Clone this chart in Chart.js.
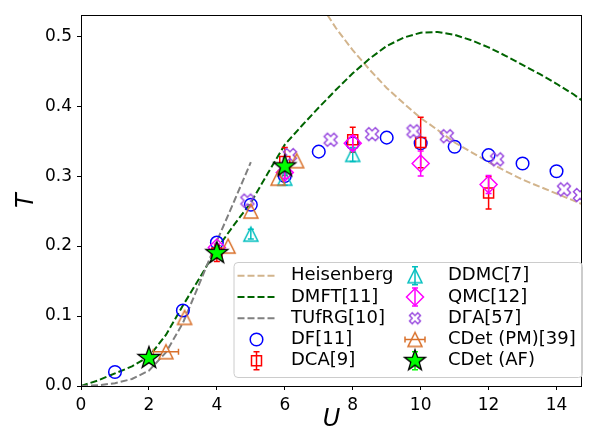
<!DOCTYPE html>
<html><head><meta charset="utf-8">
<script src="https://cdn.jsdelivr.net/npm/chart.js@4/dist/chart.umd.min.js"></script>
<style>html,body{margin:0;padding:0;background:#fff;overflow:hidden}</style>
</head><body>
<canvas id="c" width="592" height="434"></canvas>
<script>
// ---- data ----
const heisU = [7.26, 7.5, 8, 8.5, 9, 9.5, 10, 10.5, 11, 11.5, 12, 12.5, 13, 13.5, 14, 14.75];
const heisT = [0.53, 0.512, 0.48, 0.452, 0.426, 0.404, 0.383, 0.366, 0.348, 0.334, 0.32, 0.307, 0.295, 0.285, 0.275, 0.26];
const dmftU = [0, 0.5, 1, 1.5, 2, 2.5, 3, 3.5, 4, 4.5, 5, 5.5, 6, 6.5, 7, 7.5, 8, 8.5, 9, 9.5, 10, 10.5, 11, 11.5, 12, 12.5, 13, 13.5, 14, 14.5, 14.75];
const dmftT = [0, 0.008, 0.018, 0.028, 0.042, 0.073, 0.115, 0.155, 0.196, 0.23, 0.262, 0.304, 0.345, 0.372, 0.398, 0.423, 0.447, 0.468, 0.486, 0.498, 0.505, 0.506, 0.502, 0.494, 0.484, 0.472, 0.459, 0.446, 0.432, 0.417, 0.408];
const tufrgU = [0, 0.5, 1, 1.5, 2, 2.5, 3, 3.5, 4, 4.5, 5];
const tufrgT = [0, 0.001, 0.004, 0.01, 0.022, 0.048, 0.09, 0.148, 0.207, 0.263, 0.32];
const dfU = [1, 3, 4, 5, 6, 7, 8, 9, 10, 11, 12, 13, 14];
const dfT = [0.020, 0.108, 0.205, 0.259, 0.300, 0.335, 0.347, 0.355, 0.347, 0.342, 0.330, 0.318, 0.307];
const dcaU = [4, 6, 8, 10, 12];
const dcaT = [0.19, 0.321, 0.352, 0.348, 0.276];
const dcaErr = [0.012, 0.02, 0.018, 0.036, 0.023];
const ddmcU = [5, 6, 8];
const ddmcT = [0.217, 0.297, 0.331];
const ddmcErr = [0.007, 0.01, 0.01];
const qmcU = [4, 6, 8, 10, 12];
const qmcT = [0.198, 0.305, 0.347, 0.318, 0.288];
const qmcErr = [0.005, 0.008, 0.01, 0.018, 0.013];
const dgaU = [4.9, 6.15, 7.35, 8.57, 9.79, 10.77, 12.25, 14.22, 14.69];
const dgaT = [0.265, 0.33, 0.352, 0.36, 0.364, 0.357, 0.324, 0.281, 0.273];
const cpmU = [2.5, 3.05, 4.33, 5.0, 5.8, 6.35];
const cpmT = [0.049, 0.098, 0.2, 0.25, 0.297, 0.322];
const cpmXErr = [0.37, 0, 0, 0, 0, 0];
const cafU = [2, 4, 6];
const cafT = [0.04, 0.19, 0.314];
const xTicks = [0, 2, 4, 6, 8, 10, 12, 14];
const yTicks = [0.0, 0.1, 0.2, 0.3, 0.4, 0.5];

const labels = ['Heisenberg', 'DMFT[11]', 'TUfRG[10]', 'DF[11]', 'DCA[9]', 'DDMC[7]', 'QMC[12]', 'D\u0393A[57]', 'CDet (PM)[39]', 'CDet (AF)'];

const C = {heis:'#d2b48c', dmft:'#006400', tufrg:'#808080', df:'#0000ff', dca:'#ff0000', ddmc:'#00bfbf', qmc:'#ff00ff', dga:'#9b4de0', cpm:'#d9702a', caf:'#00ff00'};

function pts(u, t){ return u.map((x,i)=>({x:x, y:t[i]})); }

// ---- marker canvases for shapes Chart.js lacks ----
function mk(size, fn){ const c=document.createElement('canvas'); c.width=size; c.height=size; const g=c.getContext('2d'); g.translate(size/2,size/2); fn(g); return c; }
function triM(col){ return mk(20, g=>{ g.beginPath(); g.moveTo(0,-7); g.lineTo(-7,7); g.lineTo(7,7); g.closePath(); g.lineWidth=1.5; g.strokeStyle=col; g.stroke(); }); }
function xM(col, s){ return mk(20, g=>{ const p=[[-0.25,-0.5],[0,-0.25],[0.25,-0.5],[0.5,-0.25],[0.25,0],[0.5,0.25],[0.25,0.5],[0,0.25],[-0.25,0.5],[-0.5,0.25],[-0.25,0],[-0.5,-0.25]]; g.beginPath(); p.forEach((q,i)=>{ const X=q[0]*s, Y=q[1]*s; if(i) g.lineTo(X,Y); else g.moveTo(X,Y); }); g.closePath(); g.lineWidth=1.5; g.strokeStyle=col; g.stroke(); }); }
function starM(R){ return mk(28, g=>{ const r=R*0.4; g.beginPath(); for(let i=0;i<10;i++){ const a=-Math.PI/2+i*Math.PI/5; const rr=i%2?r:R; const X=Math.cos(a)*rr, Y=Math.sin(a)*rr; if(i) g.lineTo(X,Y); else g.moveTo(X,Y);} g.closePath(); g.fillStyle=C.caf; g.fill(); g.lineWidth=1.3; g.strokeStyle='#000'; g.stroke(); }); }

const M = { ddmc: triM(C.ddmc), dga: xM(C.dga, 13), dgaL: xM(C.dga, 11), cpm: triM(C.cpm), caf: starM(11.5), cafL: starM(11) };

function lineDS(label, u, t, col, order){ return {label, data: pts(u,t), showLine:true, borderColor:col, borderWidth:2, borderDash:[7,3], pointRadius:0, pointHoverRadius:0, fill:false, order, tension:0}; }
function ptDS(label, u, t, style, radius, col, order, extra){ return Object.assign({label, data: pts(u,t), showLine:false, pointStyle: style, pointRadius:radius, pointHoverRadius:radius, borderColor:col, pointBorderWidth:1.5, backgroundColor:'transparent', order}, extra||{}); }

const datasets = [
  lineDS(labels[0], heisU, heisT, C.heis, 20),
  lineDS(labels[1], dmftU, dmftT, C.dmft, 19),
  lineDS(labels[2], tufrgU, tufrgT, C.tufrg, 18),
  ptDS(labels[3], dfU, dfT, 'circle', 6.3, C.df, 9),
  ptDS(labels[4], dcaU, dcaT, 'rect', 7.1, C.dca, 8, {errY: dcaErr}),
  ptDS(labels[5], ddmcU, ddmcT, M.ddmc, 6, C.ddmc, 7, {errY: ddmcErr}),
  ptDS(labels[6], qmcU, qmcT, 'rectRot', 8.5, C.qmc, 6, {errY: qmcErr}),
  ptDS(labels[7], dgaU, dgaT, M.dga, 6, C.dga, 5),
  ptDS(labels[8], cpmU, cpmT, M.cpm, 6, C.cpm, 4, {errX: cpmXErr}),
  ptDS(labels[9], cafU, cafT, M.caf, 6, C.caf, 3)
];

const FONT = 'DejaVu Sans';

const errPlugin = {
  id: 'errbars',
  beforeDatasetDraw(chart, args){
    const ds = chart.data.datasets[args.index];
    if(!ds.errY && !ds.errX) return;
    const ctx = chart.ctx, xs = chart.scales.x, ys = chart.scales.y, a = chart.chartArea;
    ctx.save();
    ctx.beginPath(); ctx.rect(a.left, a.top, a.right-a.left, a.bottom-a.top); ctx.clip();
    ctx.strokeStyle = ds.borderColor; ctx.lineWidth = 1.5;
    ds.data.forEach((p,i)=>{
      const px = xs.getPixelForValue(p.x), py = ys.getPixelForValue(p.y);
      if(ds.errY && ds.errY[i]){
        const y1 = ys.getPixelForValue(p.y + ds.errY[i]), y2 = ys.getPixelForValue(p.y - ds.errY[i]);
        ctx.beginPath(); ctx.moveTo(px,y1); ctx.lineTo(px,y2);
        ctx.moveTo(px-3,y1); ctx.lineTo(px+3,y1); ctx.moveTo(px-3,y2); ctx.lineTo(px+3,y2); ctx.stroke();
      }
      if(ds.errX && ds.errX[i]){
        const x1 = xs.getPixelForValue(p.x - ds.errX[i]), x2 = xs.getPixelForValue(p.x + ds.errX[i]);
        ctx.beginPath(); ctx.moveTo(x1,py); ctx.lineTo(x2,py);
        ctx.moveTo(x1,py-3); ctx.lineTo(x1,py+3); ctx.moveTo(x2,py-3); ctx.lineTo(x2,py+3); ctx.stroke();
      }
    });
    ctx.restore();
  }
};

const framePlugin = {
  id: 'frame',
  afterDatasetsDraw(chart){
    const ctx = chart.ctx, a = chart.chartArea;
    ctx.save(); ctx.strokeStyle = '#000'; ctx.lineWidth = 1;
    ctx.strokeRect(Math.round(a.left)+0.5, Math.round(a.top)+0.5, Math.round(a.right-a.left)-1, Math.round(a.bottom-a.top));
    ctx.restore();
  }
};

const legendPlugin = {
  id: 'customLegend',
  afterDraw(chart){
    const ctx = chart.ctx;
    const bx = 234, by = 262.5, bw = 348.5, bh = 115, r = 4;
    ctx.save();
    ctx.beginPath();
    ctx.moveTo(bx+r, by); ctx.lineTo(bx+bw-r, by); ctx.quadraticCurveTo(bx+bw, by, bx+bw, by+r);
    ctx.lineTo(bx+bw, by+bh-r); ctx.quadraticCurveTo(bx+bw, by+bh, bx+bw-r, by+bh);
    ctx.lineTo(bx+r, by+bh); ctx.quadraticCurveTo(bx, by+bh, bx, by+bh-r);
    ctx.lineTo(bx, by+r); ctx.quadraticCurveTo(bx, by, bx+r, by); ctx.closePath();
    ctx.fillStyle = 'rgba(255,255,255,0.8)'; ctx.fill();
    ctx.strokeStyle = '#cccccc'; ctx.lineWidth = 1; ctx.stroke();

    const rows = [275.7, 297, 318.3, 339.5, 360.7];
    const c1 = 256.5, t1 = 291, c2 = 415, t2 = 448;
    ctx.font = '18px "' + FONT + '"'; ctx.textBaseline = 'middle'; ctx.fillStyle = '#000'; ctx.textAlign = 'left';
    const drawImg = (img, x, y) => ctx.drawImage(img, x - img.width/2, y - img.height/2);
    const dash = (col, y) => { ctx.save(); ctx.strokeStyle = col; ctx.lineWidth = 2; ctx.setLineDash([7,3]); ctx.beginPath(); ctx.moveTo(c1-19, y); ctx.lineTo(c1+19, y); ctx.stroke(); ctx.restore(); };
    const vbar = (col, x, y, h) => { ctx.save(); ctx.strokeStyle = col; ctx.lineWidth = 1.5; ctx.beginPath(); ctx.moveTo(x, y-h); ctx.lineTo(x, y+h); ctx.moveTo(x-3, y-h); ctx.lineTo(x+3, y-h); ctx.moveTo(x-3, y+h); ctx.lineTo(x+3, y+h); ctx.stroke(); ctx.restore(); };
    const hbar = (col, x, y, w) => { ctx.save(); ctx.strokeStyle = col; ctx.lineWidth = 1.5; ctx.beginPath(); ctx.moveTo(x-w, y); ctx.lineTo(x+w, y); ctx.moveTo(x-w, y-3); ctx.lineTo(x-w, y+3); ctx.moveTo(x+w, y-3); ctx.lineTo(x+w, y+3); ctx.stroke(); ctx.restore(); };
    const strokeShape = (col, fn) => { ctx.save(); ctx.strokeStyle = col; ctx.lineWidth = 1.5; ctx.beginPath(); fn(); ctx.stroke(); ctx.restore(); };

    dash(C.heis, rows[0]); ctx.fillText(labels[0], t1, rows[0]);
    dash(C.dmft, rows[1]); ctx.fillText(labels[1], t1, rows[1]);
    dash(C.tufrg, rows[2]); ctx.fillText(labels[2], t1, rows[2]);
    strokeShape(C.df, () => ctx.arc(c1, rows[3], 6.3, 0, Math.PI*2)); ctx.fillText(labels[3], t1, rows[3]);
    vbar(C.dca, c1, rows[4], 9); strokeShape(C.dca, () => ctx.rect(c1-5, rows[4]-5, 10, 10)); ctx.fillText(labels[4], t1, rows[4]);
    vbar(C.ddmc, c2, rows[0], 9); drawImg(M.ddmc, c2, rows[0]); ctx.fillText(labels[5], t2, rows[0]);
    vbar(C.qmc, c2, rows[1], 9); strokeShape(C.qmc, () => { ctx.moveTo(c2, rows[1]-8.5); ctx.lineTo(c2+8.5, rows[1]); ctx.lineTo(c2, rows[1]+8.5); ctx.lineTo(c2-8.5, rows[1]); ctx.closePath(); }); ctx.fillText(labels[6], t2, rows[1]);
    drawImg(M.dgaL, c2, rows[2]); ctx.fillText(labels[7], t2, rows[2]);
    hbar(C.cpm, c2, rows[3], 10); drawImg(M.cpm, c2, rows[3]); ctx.fillText(labels[8], t2, rows[3]);
    vbar(C.caf, c2, rows[4], 9); drawImg(M.cafL, c2, rows[4]); ctx.fillText(labels[9], t2, rows[4]);
    ctx.restore();
  }
};

new Chart(document.getElementById('c'), {
  type: 'scatter',
  data: { datasets },
  options: {
    responsive: false, animation: false,
    layout: { padding: { top: 13, right: 2, left: 0, bottom: 0 } },
    plugins: { legend: { display: false }, tooltip: { enabled: false } },
    events: [],
    scales: {
      x: {
        type: 'linear', min: 0, max: 14.75,
        afterFit(s){ s.height = 48; },
        afterBuildTicks(s){ s.ticks = xTicks.map(v=>({value:v})); },
        ticks: { color: '#000', font: { family: FONT, size: 17 }, padding: 5, maxRotation: 0, autoSkip: false, callback: v => String(v) },
        grid: { display: true, drawOnChartArea: false, drawTicks: true, tickLength: 4, color: '#000', lineWidth: 1 },
        border: { display: false },
        title: { display: true, text: 'U', color: '#000', font: { family: FONT, size: 24, style: 'italic' }, padding: { top: 0, bottom: 0 } }
      },
      y: {
        type: 'linear', min: 0, max: 0.53,
        afterFit(s){ s.width = 81; },
        afterBuildTicks(s){ s.ticks = yTicks.map(v=>({value:v})); },
        ticks: { color: '#000', font: { family: FONT, size: 17 }, padding: 5, autoSkip: false, callback: v => v.toFixed(1) },
        grid: { display: true, drawOnChartArea: false, drawTicks: true, tickLength: 4, color: '#000', lineWidth: 1 },
        border: { display: false },
        title: { display: true, text: 'T', color: '#000', font: { family: FONT, size: 24, style: 'italic' }, padding: { top: 12, bottom: 0 } }
      }
    }
  },
  plugins: [errPlugin, framePlugin, legendPlugin]
});
</script>
</body></html>
